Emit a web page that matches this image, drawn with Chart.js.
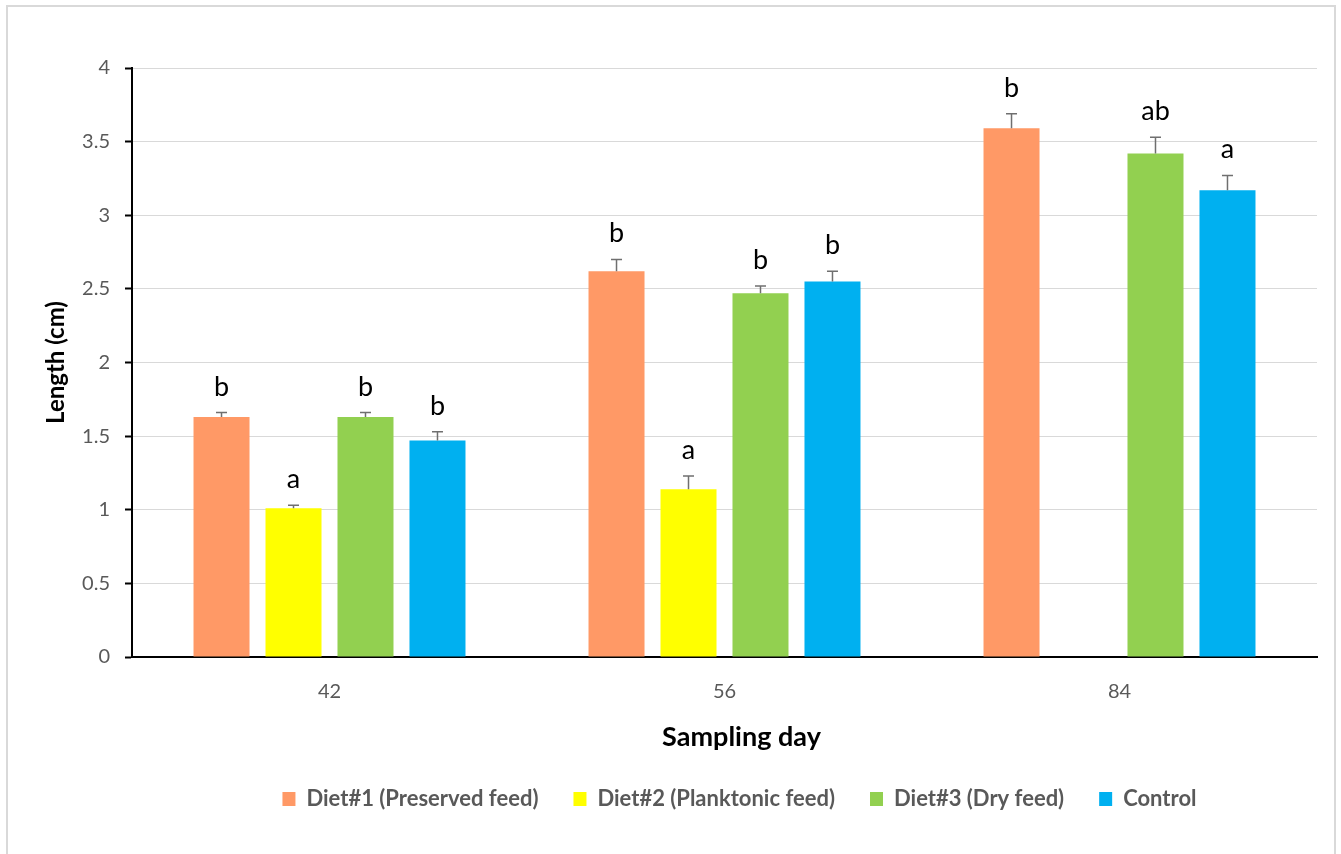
<!DOCTYPE html>
<html>
<head>
<meta charset="utf-8">
<title>Length by sampling day</title>
<script src="https://cdn.jsdelivr.net/npm/chart.js@4.4.1/dist/chart.umd.min.js"></script>
<style>
  html, body { margin: 0; padding: 0; background: #fff; overflow: hidden; }
  #frame { position: absolute; left: 6px; top: 5px; width: 1326px; height: 850px; border: 2px solid #d9d9d9; }
  canvas { display: block; }
</style>
</head>
<body>
<div id="frame"><canvas id="chart" width="1326" height="847"></canvas></div>
<script>
// Sampling days (x categories)
const days = ['42', '56', '84'];

// Mean length (cm) per diet
const diet1 = [1.63, 2.62, 3.59];
const diet2 = [1.01, 1.14, null];
const diet3 = [1.63, 2.47, 3.42];
const control = [1.47, 2.55, 3.17];

// Upper error (cm)
const diet1Err = [0.03, 0.08, 0.10];
const diet2Err = [0.02, 0.09, null];
const diet3Err = [0.03, 0.05, 0.11];
const controlErr = [0.06, 0.07, 0.10];

// Significance letters
const diet1Sig = ['b', 'b', 'b'];
const diet2Sig = ['a', 'a', ''];
const diet3Sig = ['b', 'b', 'ab'];
const controlSig = ['b', 'b', 'a'];

// Y axis ticks
const yMin = 0, yMax = 4, yStep = 0.5;

const seriesNames = ['Diet#1 (Preserved feed)', 'Diet#2 (Planktonic feed)', 'Diet#3 (Dry feed)', 'Control'];
const seriesColors = ['#FF9966', '#FFFF00', '#92D050', '#00B0F0'];

// Error bars and letters above each bar
const errorBarsAndLetters = {
  id: 'errorBarsAndLetters',
  afterDatasetsDraw(chart) {
    const ctx = chart.ctx;
    const y = chart.scales.y;
    chart.data.datasets.forEach((ds, di) => {
      const meta = chart.getDatasetMeta(di);
      meta.data.forEach((bar, i) => {
        const v = ds.data[i];
        if (v === null || v === undefined) return;
        const e = ds.errors[i] || 0;
        const base = y.getPixelForValue(v);
        const top = y.getPixelForValue(v + e);
        ctx.save();
        ctx.strokeStyle = '#6f6f6f';
        ctx.lineWidth = 1.5;
        ctx.beginPath();
        ctx.moveTo(bar.x, base);
        ctx.lineTo(bar.x, top);
        ctx.moveTo(bar.x - 5.5, top);
        ctx.lineTo(bar.x + 5.5, top);
        ctx.stroke();
        ctx.fillStyle = '#000';
        ctx.font = '27px Lato';
        ctx.textAlign = 'center';
        ctx.textBaseline = 'alphabetic';
        ctx.fillText(ds.letters[i], bar.x, top - 17);
        ctx.restore();
      });
    });
  }
};

// Place the axis title and legend below the plot
const bottomBlocks = {
  id: 'bottomBlocks',
  afterLayout(chart) {
    const t = chart.titleBlock;
    if (t) {
      const h = t.height;
      t.left += 79; t.right += 79;
      t.top = 730 - 16.2; t.bottom = t.top + h;
    }
    const l = chart.legend;
    if (l) {
      const h = l.height;
      l.left += 77; l.right += 77;
      l.top = 792 - 35 - 11; l.bottom = l.top + h;
    }
  }
};

function build() {
  Chart.defaults.font.family = 'Lato';
  const values = [diet1, diet2, diet3, control];
  const errs = [diet1Err, diet2Err, diet3Err, controlErr];
  const sigs = [diet1Sig, diet2Sig, diet3Sig, controlSig];

  new Chart(document.getElementById('chart'), {
    type: 'bar',
    data: {
      labels: days,
      datasets: values.map((d, k) => ({
        label: seriesNames[k],
        data: d,
        errors: errs[k],
        letters: sigs[k],
        backgroundColor: seriesColors[k],
        borderWidth: 0,
        categoryPercentage: 0.729,
        barPercentage: 0.778
      }))
    },
    options: {
      responsive: false,
      animation: false,
      layout: { padding: { top: 61, right: 17, bottom: 0, left: 0 } },
      plugins: {
        tooltip: { enabled: false },
        title: {
          display: true,
          position: 'bottom',
          text: 'Sampling day',
          color: '#000',
          font: { size: 27, weight: 'bold' },
          padding: { top: 0, bottom: 0 },
          weight: 500
        },
        legend: {
          position: 'bottom',
          maxHeight: 60,
          labels: {
            boxWidth: 13,
            boxHeight: 14,
            padding: 35,
            color: '#595959',
            font: { size: 22, weight: 'bold' }
          }
        }
      },
      scales: {
        x: {
          z: 1,
          afterFit(s) { s.height = 847 - 650 - 60 - 32.4; },
          grid: { drawOnChartArea: false, drawTicks: false },
          border: { display: true, color: '#000', width: 2 },
          ticks: { color: '#595959', font: { size: 20 }, padding: 23 }
        },
        y: {
          min: yMin,
          max: yMax,
          afterFit(s) { s.width = 124; },
          ticks: {
            stepSize: yStep,
            color: '#595959',
            font: { size: 20 },
            padding: 15,
            callback: (v) => String(Number(v))
          },
          grid: { color: '#d9d9d9', lineWidth: 1, tickLength: 7, tickColor: '#000', tickWidth: 2 },
          border: { display: true, color: '#000', width: 2 },
          title: {
            display: true,
            text: 'Length (cm)',
            color: '#000',
            font: { size: 24, weight: 'bold' },
            padding: { top: 34, bottom: 0 }
          }
        }
      }
    },
    plugins: [errorBarsAndLetters, bottomBlocks]
  });
}

if (document.fonts && document.fonts.load) {
  Promise.all([
    document.fonts.load('20px Lato'),
    document.fonts.load('bold 20px Lato')
  ]).then(build, build);
} else {
  build();
}
</script>
</body>
</html>
